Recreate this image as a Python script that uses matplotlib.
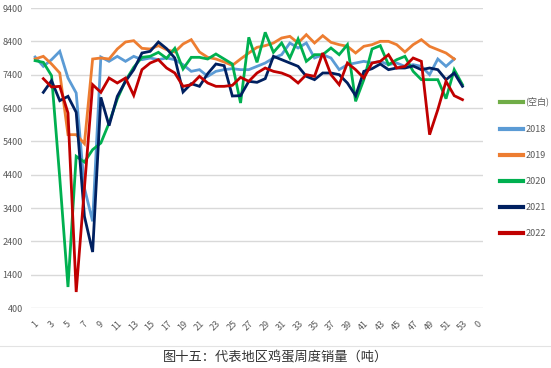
import matplotlib
matplotlib.use("Agg")
import matplotlib.pyplot as plt
from matplotlib.lines import Line2D

plt.rcParams['font.family'] = ['Liberation Sans Narrow', 'Noto Sans CJK SC', 'DejaVu Sans']

# x categories: weeks 1..53, then two more slots, the last one labelled "0"
week_labels = [str(w) for w in range(1, 55)] + ['0']

# weekly egg sales (tonnes)
blank_series = []
sales_2018 = [7930, 7650, 7850, 8100, 7300, 6850, 4000, 3000, 7930, 7800,
              7950, 7800, 7950, 7850, 7900, 7850, 7900, 7850, 7700, 7500,
              7550, 7350, 7500, 7550, 7580, 7550, 7550, 7650, 7750, 7900,
              8000, 8350, 8200, 8350, 7900, 8000, 7900, 7550, 7700, 7750,
              7800, 7750, 7800, 7700, 7750, 7650, 7700, 7650, 7400, 7870,
              7650, 7870]
sales_2019 = [7870, 7950, 7720, 7450, 5600, 5600, 5330, 7870, 7900, 7870,
              8170, 8380, 8420, 8190, 8170, 8270, 8150, 8080, 8320, 8450,
              8080, 7920, 7870, 7780, 7680, 7870, 8050, 8220, 8270, 8350,
              8500, 8550, 8350, 8600, 8350, 8570, 8370, 8300, 8250, 8050,
              8250, 8300, 8400, 8400, 8300, 8080, 8300, 8450, 8250, 8150,
              8050, 7870]
sales_2020 = [7820, 7770, 7370, 4300, 1030, 4950, 4780, 5150, 5350, 5950,
              6670, 7220, 7620, 7920, 7950, 8070, 7890, 8190, 7570, 7920,
              7920, 7870, 8020, 7870, 7720, 6550, 8520, 7770, 8670, 8070,
              8350, 7900, 8470, 7800, 8000, 8000, 8200, 8000, 8300, 6600,
              7250, 8170, 8270, 7700, 7850, 7950, 7500, 7250, 7250, 7250,
              6680, 7550, 7100]
# 2021 and 2022 start at week 2
sales_2021 = [6870, 7220, 6620, 6750, 6270, 3150, 2080, 6720, 5870,
              6750, 7200, 7550, 8050, 8100, 8380, 8180, 7900, 6880, 7130,
              7050, 7430, 7720, 7670, 6760, 6770, 7200, 7170, 7280, 7950,
              7850, 7750, 7650, 7350, 7250, 7450, 7450, 7400, 7150, 6770,
              7500, 7580, 7720, 7550, 7600, 7600, 7660, 7550, 7600, 7550,
              7250, 7450, 7050]
sales_2022 = [7280, 7030, 7050, 6250, 880, 4000, 7100, 6870, 7300,
              7150, 7300, 6780, 7550, 7750, 7850, 7600, 7450, 7050, 7100,
              7350, 7150, 7050, 7050, 7080, 7320, 7200, 7450, 7600, 7500,
              7450, 7350, 7150, 7400, 7350, 8050, 7400, 7100, 7750, 7550,
              7300, 7750, 7800, 8000, 7600, 7650, 7900, 7800, 5600, 6350,
              7200, 6770, 6650]

series = [
    ('(空白)', 1, blank_series, '#70AD47'),
    ('2018', 1, sales_2018, '#5B9BD5'),
    ('2019', 1, sales_2019, '#ED7D31'),
    ('2020', 1, sales_2020, '#00B050'),
    ('2021', 2, sales_2021, '#002060'),
    ('2022', 2, sales_2022, '#C00000'),
]

fig = plt.figure(figsize=(5.51, 3.68), dpi=100)
ax = fig.add_axes([31 / 551, 1 - 308 / 368, 452 / 551, 300 / 368])

for name, start, vals, col in series:
    ax.plot(range(start, start + len(vals)), vals, color=col, lw=2.0,
            label=name, solid_joinstyle='miter')

ax.set_xlim(0.5, len(week_labels) + 0.5)
ax.set_ylim(400, 9400)
ax.set_yticks(range(400, 9401, 1000))
ax.set_xticks(range(1, len(week_labels) + 1, 2))
ax.set_xticklabels(week_labels[::2], rotation=45, ha='center', va='top')
ax.tick_params(axis='both', length=0, labelsize=6.5, labelcolor='#595959')
ax.tick_params(axis='x', pad=8)
ax.tick_params(axis='y', pad=6)
ax.yaxis.grid(True, color='#D9D9D9', lw=1)
ax.set_axisbelow(True)
for sp in ax.spines.values():
    sp.set_visible(False)

leg = fig.legend(loc='upper left', bbox_to_anchor=(500 / 551, 1 - 98 / 368),
                 frameon=False, fontsize=6.5, handlelength=2.6,
                 handletextpad=0.2, labelspacing=1.9, borderaxespad=0,
                 borderpad=0)
for t in leg.get_texts():
    t.set_color('#595959')
for h in leg.get_lines():
    h.set_linewidth(3)

# thin separator line above the caption
fig.add_artist(Line2D([0, 1], [1 - 346 / 368] * 2, color='#E3E3E3', lw=0.8))
fig.text(0.5, 1 - 358 / 368, '图十五：代表地区鸡蛋周度销量（吨）', ha='center', va='center',
         fontsize=9.5, color='#333333', family=['Noto Sans CJK SC', 'DejaVu Sans'])

fig.savefig('out.png', dpi=100)
